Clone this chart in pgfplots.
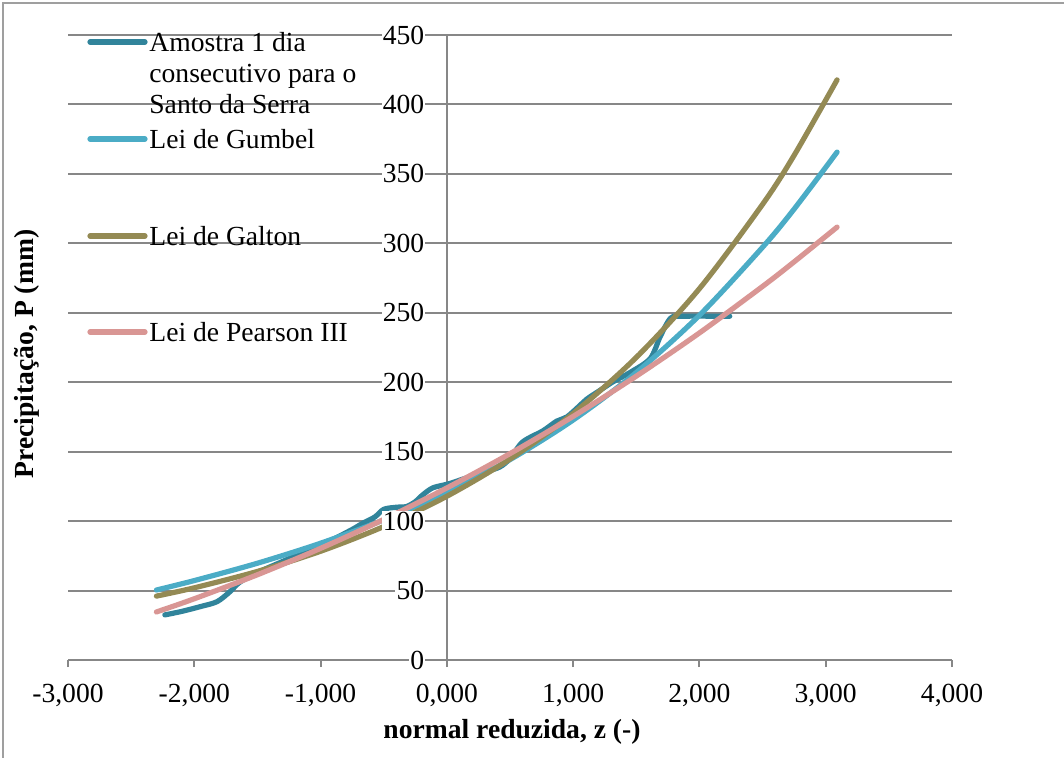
\documentclass[border=0pt]{standalone}
\usepackage{pgfplots}
\pgfplotsset{compat=1.18}
\usepackage{pgfplotstable}
\usepackage{fontspec}
\setmainfont{Liberation Serif}
\definecolor{cSample}{HTML}{31849B}
\definecolor{cGumbel}{HTML}{4BACC6}
\definecolor{cGalton}{HTML}{948A54}
\definecolor{cPearson}{HTML}{D99694}
\definecolor{cGrid}{HTML}{878787}

\pgfplotstableread{
z P
-2.233 32.5
-2.10 35
-1.95 38.5
-1.82 42
-1.72 49
-1.64 56
-1.50 63
-1.30 71
-1.10 79
-0.90 87
-0.75 94
-0.665 98.5
-0.57 103
-0.50 108.5
-0.40 110
-0.32 110.5
-0.25 114
-0.19 119
-0.11 124
0.02 127
0.15 131
0.32 136
0.42 139
0.50 145
0.60 157
0.76 165
0.87 172
0.95 175
1.05 183
1.11 188
1.21 194
1.31 200
1.45 207
1.61 217
1.69 233
1.77 246
1.85 247.5
2.24 247.5
}\sample

\pgfplotstableread{
z P
-2.3 50.4
-2.0 57.2
-1.5 69.7
-1.0 84.1
-0.5 100.9
0.0 120.7
0.5 144.3
1.0 172.8
1.5 207.0
2.0 248.2
2.5 297.2
2.75 324.7
3.09 365.7
}\gumbel

\pgfplotstableread{
z P
-2.3 46.0
-2.0 52.0
-1.5 63.8
-1.0 78.3
-0.5 96.1
0.0 117.9
0.5 144.7
1.0 177.5
1.5 217.9
2.0 267.4
2.5 328.1
2.75 363.4
3.09 417.7
}\galton

\pgfplotstableread{
z P
-2.3 34.6
-2.0 44.1
-1.5 61.4
-1.0 80.4
-0.5 101.2
0.0 123.9
0.5 148.6
1.0 175.4
1.5 204.4
2.0 235.5
2.5 269.0
2.75 286.7
3.09 311.7
}\pearson

\begin{document}
\fontsize{13.8}{15.5}\selectfont
\begin{tikzpicture}
\useasboundingbox (0,0) rectangle (532pt,-378.5pt);
\draw[cGrid!80, line width=1pt] (1.5pt,-400pt) -- (1.5pt,-1.5pt) -- (540pt,-1.5pt);
\begin{axis}[
  at={(34pt,-330pt)}, anchor=south west,
  scale only axis, width=442pt, height=312.5pt,
  xmin=-3, xmax=4, ymin=0, ymax=450,
  axis x line*=bottom, axis y line*=middle,
  axis line style={cGrid, line width=1pt},
  xtick={-3,-2,-1,0,1,2,3,4},
  xticklabels={{-3,000},{-2,000},{-1,000},{0,000},{1,000},{2,000},{3,000},{4,000}},
  ytick={0,50,100,150,200,250,300,350,400,450},
  yticklabels={},
  hide obscured x ticks=false,
  xtick align=outside,
  major tick length=3.5pt,
  xtick style={cGrid, line width=1pt},
  ytick style={draw=none},
  ymajorgrids,
  major grid style={cGrid, line width=1pt},
  tick label style={font=\fontsize{13.8}{15}\selectfont},
  xticklabel style={anchor=north, yshift=-4pt},
  clip=false,
]
\addplot[cSample, line width=2.6pt, smooth, line cap=round] table[x=z,y=P] {\sample};
\addplot[cGumbel, line width=2.6pt, smooth, line cap=round] table[x=z,y=P] {\gumbel};
\addplot[cGalton, line width=2.6pt, smooth, line cap=round] table[x=z,y=P] {\galton};
\addplot[cPearson, line width=2.6pt, smooth, line cap=round] table[x=z,y=P] {\pearson};
\pgfplotsinvokeforeach{0,50,100,150,200,250,300,350,400,450}{
  \node[anchor=east, fill=white, inner sep=0.6pt, xshift=-10.5pt] at (axis cs:0,#1) {#1};
}
\end{axis}
% legend
\draw[cSample, line width=2.6pt, line cap=round] (45pt,-21pt) -- (72.5pt,-21pt);
\node[anchor=base west, inner sep=0pt] at (74.5pt,-25.5pt) {Amostra 1 dia};
\node[anchor=base west, inner sep=0pt] at (74.5pt,-41pt) {consecutivo para o};
\node[anchor=base west, inner sep=0pt] at (74.5pt,-56.5pt) {Santo da Serra};
\draw[cGumbel, line width=2.6pt, line cap=round] (45pt,-69.5pt) -- (72.5pt,-69.5pt);
\node[anchor=base west, inner sep=0pt] at (74.5pt,-74pt) {Lei de Gumbel};
\draw[cGalton, line width=2.6pt, line cap=round] (45pt,-118pt) -- (72.5pt,-118pt);
\node[anchor=base west, inner sep=0pt] at (74.5pt,-122.5pt) {Lei de Galton};
\draw[cPearson, line width=2.6pt, line cap=round] (45pt,-166pt) -- (72.5pt,-166pt);
\node[anchor=base west, inner sep=0pt] at (74.5pt,-170.5pt) {Lei de Pearson III};
% axis titles
\node[rotate=90, font=\bfseries] at (13.5pt,-177pt) {Precipitação, P (mm)};
\node[font=\bfseries] at (256pt,-366pt) {normal reduzida, z (-)};
\end{tikzpicture}
\end{document}
